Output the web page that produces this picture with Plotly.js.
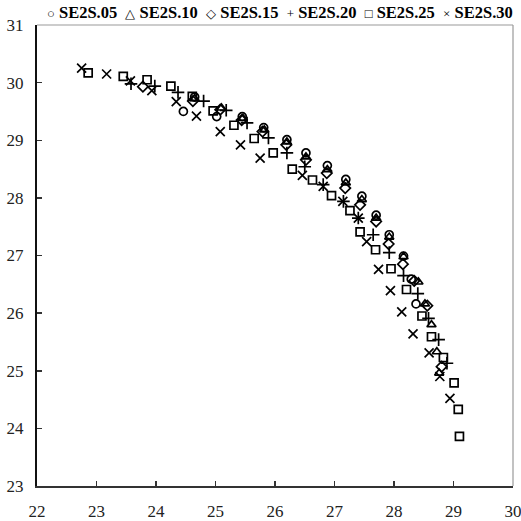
<!DOCTYPE html>
<html>
<head>
<meta charset="utf-8">
<script src="https://cdn.plot.ly/plotly-3.0.1.min.js"></script>
<style>html,body{margin:0;padding:0;background:#fff;}#chart{width:521px;height:521px;}</style>
</head>
<body>
<div id="chart"></div>
<script>
const seriesNames = ["SE2S.05","SE2S.10","SE2S.15","SE2S.20","SE2S.25","SE2S.30"];
const legendGlyphs = ["\u25CB","\u25B3","\u25C7","+","\u25A1","\u00D7"];
const markerSymbols = ["circle-open","triangle-up-open","diamond-open","cross-thin-open","square-open","x-thin-open"];

const x05 = [24.46,24.65,25.02,25.45,25.81,26.20,26.52,26.88,27.19,27.46,27.70,27.92,28.16,28.29,28.37];
const y05 = [29.50,29.75,29.41,29.41,29.22,29.01,28.78,28.56,28.32,28.03,27.70,27.36,26.99,26.59,26.16];

const x10 = [24.65,25.10,25.46,25.82,26.20,26.52,26.88,27.19,27.46,27.70,27.92,28.16,28.41,28.52,28.63,28.72,28.76];
const y10 = [29.72,29.56,29.38,29.18,28.97,28.71,28.49,28.26,27.97,27.65,27.32,26.98,26.54,26.16,25.80,25.33,24.96];

const x15 = [23.78,24.62,25.08,25.44,25.79,26.19,26.52,26.87,27.18,27.43,27.70,27.91,28.15,28.34,28.56,28.80];
const y15 = [29.93,29.68,29.53,29.35,29.15,28.92,28.66,28.43,28.17,27.88,27.59,27.20,26.85,26.56,26.13,25.07];

const x20 = [23.58,23.98,24.37,24.80,25.18,25.53,25.89,26.20,26.50,26.81,27.15,27.40,27.65,27.92,28.16,28.40,28.58,28.75,28.89];
const y20 = [29.98,29.94,29.83,29.68,29.52,29.30,29.04,28.78,28.54,28.23,27.94,27.65,27.36,27.05,26.65,26.34,25.91,25.54,25.13];

const x25 = [22.86,23.45,23.85,24.25,24.61,24.96,25.31,25.65,25.97,26.29,26.63,26.95,27.26,27.43,27.69,27.95,28.21,28.47,28.63,28.83,29.01,29.08,29.10];
const y25 = [30.17,30.11,30.05,29.94,29.76,29.51,29.26,29.03,28.78,28.50,28.31,28.04,27.78,27.41,27.10,26.77,26.41,25.95,25.59,25.23,24.79,24.33,23.86];

const x30 = [22.75,23.17,23.57,23.93,24.34,24.68,25.08,25.42,25.75,26.46,26.81,27.14,27.40,27.54,27.74,27.94,28.13,28.32,28.59,28.77,28.94];
const y30 = [30.25,30.15,30.03,29.86,29.67,29.42,29.15,28.92,28.69,28.39,28.20,27.94,27.65,27.24,26.76,26.39,26.02,25.64,25.31,24.90,24.52];

const xs = [x05,x10,x15,x20,x25,x30];
const ys = [y05,y10,y15,y20,y25,y30];
const xTicks = [22,23,24,25,26,27,28,29,30];
const yTicks = [23,24,25,26,27,28,29,30,31];

const traces = seriesNames.map((n,i)=>({
  type:'scatter', mode:'markers', name:n, x:xs[i], y:ys[i],
  showlegend:false, cliponaxis:false,
  marker:{symbol:markerSymbols[i], size:(i===3||i===5)?9:8, color:'#000', line:{color:'#000', width:1.7}}
}));

const legendText = seriesNames.map((n,i)=>'<span style="font-size:13px;font-weight:normal">'+legendGlyphs[i]+'</span> '+n).join('&nbsp;&nbsp;');

const font = "Liberation Serif, serif";
const layout = {
  width:521, height:521,
  margin:{l:37, r:8, t:25, b:35},
  paper_bgcolor:'#fff', plot_bgcolor:'#fff',
  showlegend:false,
  font:{family:font, color:'#222'},
  xaxis:{range:[22,30], tickvals:xTicks, ticktext:xTicks.map(String), showgrid:false, zeroline:false,
    showline:true, linecolor:'#333', linewidth:2, ticks:'inside', ticklen:5, tickcolor:'#333', tickwidth:1.5,
    ticklabelstandoff:9, ticklabeloverflow:'allow', tickfont:{family:font, size:17, color:'#222'}},
  yaxis:{range:[23,31], tickvals:yTicks, ticktext:yTicks.map(String), showgrid:false, zeroline:false,
    showline:true, linecolor:'#111', linewidth:2, ticks:'inside', ticklen:5, tickcolor:'#333', tickwidth:1.5,
    ticklabelstandoff:8, ticklabeloverflow:'allow', tickfont:{family:font, size:17, color:'#222'}},
  shapes:[
    {type:'line', xref:'paper', yref:'paper', x0:0, x1:1, y0:1, y1:1, line:{color:'#999', width:1.2}},
    {type:'line', xref:'paper', yref:'paper', x0:1, x1:1, y0:0, y1:1, line:{color:'#999', width:1.2}}
  ],
  annotations:[{xref:'paper', yref:'paper', x:0.51, y:1.027, xanchor:'center', yanchor:'middle',
    showarrow:false, text:legendText, font:{family:font, size:16.5, color:'#000', weight:'bold'}}]
};

Plotly.newPlot('chart', traces, layout, {staticPlot:true, displayModeBar:false});
</script>
</body>
</html>
